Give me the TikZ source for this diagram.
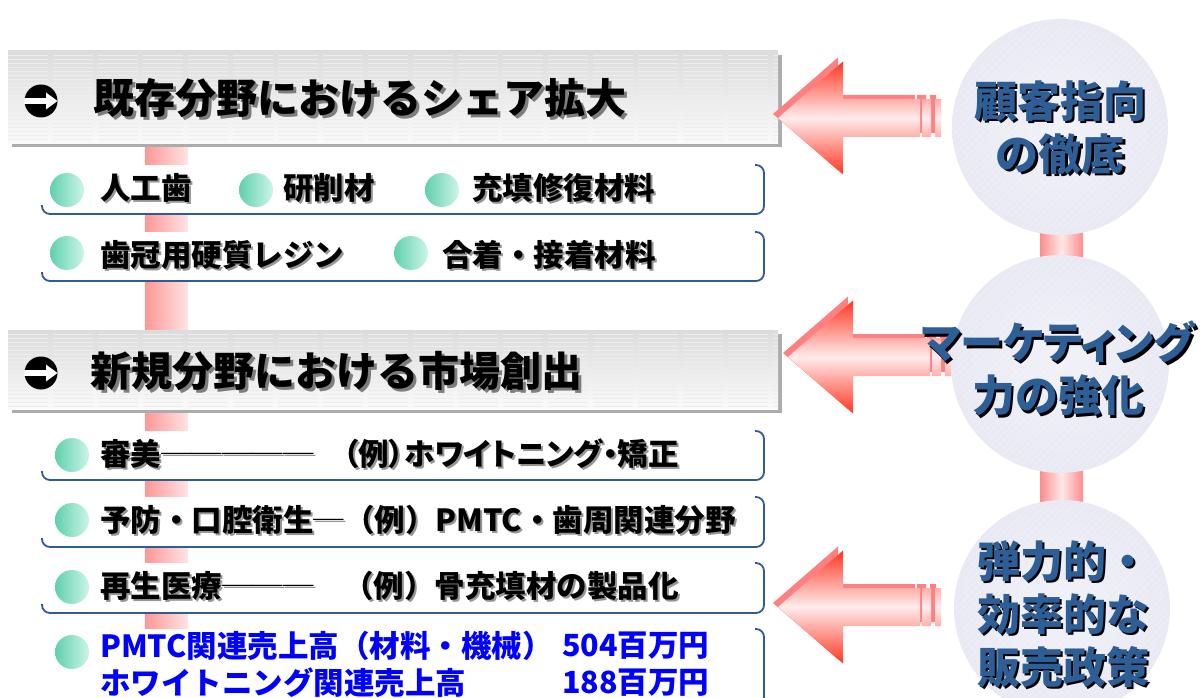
\documentclass[tikz,border=0pt]{standalone}
\usepackage{fontspec}
\setmainfont{Noto Sans CJK JP}
\newfontfamily\jpfont{Noto Sans CJK JP}
\newfontfamily\palfont{Noto Sans CJK JP}[RawFeature=+palt]

\definecolor{shgray}{RGB}{150,150,150}
\definecolor{tshgray}{RGB}{125,125,125}
\definecolor{itemblue}{RGB}{50,90,150}
\definecolor{circtext}{RGB}{46,94,150}
\definecolor{arrpink}{RGB}{255,128,128}
\definecolor{arrred}{RGB}{255,55,35}
\definecolor{arrlight}{RGB}{255,236,236}
\definecolor{bandL}{RGB}{255,150,150}
\definecolor{bandR}{RGB}{255,228,228}
\definecolor{connL}{RGB}{255,140,140}
\definecolor{connM}{RGB}{255,232,232}
\definecolor{circIn}{RGB}{241,241,248}
\definecolor{circMid}{RGB}{232,232,243}
\definecolor{circOut}{RGB}{208,208,228}
\definecolor{bulletD}{RGB}{96,208,172}
\definecolor{bulletL}{RGB}{204,245,234}
\definecolor{titleT}{RGB}{220,220,220}
\definecolor{titleB}{RGB}{250,250,250}
\definecolor{titleSh}{RGB}{172,172,172}
\definecolor{moneyblue}{RGB}{0,0,255}

\pgfdeclareradialshading{ballshade}{\pgfpoint{0bp}{0bp}}{color(0bp)=(circIn); color(28bp)=(circMid); color(50bp)=(circOut)}

\newcommand\shtext[3]{\leavevmode\rlap{\kern#1\raisebox{-#1}{\textcolor{#2}{#3}}}#3}

\newcommand\stripedarrow[2]{%
  \begin{scope}[shift={(#1,#2)}]
   \fill[arrpink] (-5,-4) -- (60,-60.5) -- (60,-23) -- (137,-23) -- (137,15) -- (60,15) -- (60,52.5) -- cycle
      (139,-23) rectangle (148,15) (152,-23) rectangle (158,15);
   \shade[top color=arrred, bottom color=arrred, middle color=arrlight]
      (0,0) -- (65,-56.5) -- (65,-19) -- (142,-19) -- (142,19) -- (65,19) -- (65,56.5) -- cycle
      (144,-19) rectangle (153,19) (157,-19) rectangle (163,19);
  \end{scope}}

\newcommand\circarrow[2]{%
  \begin{scope}[shift={(#1,#2)}]
   \fill[black] (0,0) circle (16.5);
   \fill[white] (-16.8,-2.8) rectangle (7,2.8);
   \fill[white] (5,-8.5) -- (16.5,0) -- (5,8.5) -- cycle;
  \end{scope}}

\newcommand\ballstripes[2]{%
  \begin{scope}
   \clip (#1,#2) circle (108);
   \foreach \k in {-260,-253,...,260}
     \draw[white, opacity=0.3, line width=0.6] (#1+\k-130,#2+130) -- (#1+\k+130,#2-130);
  \end{scope}}

\begin{document}
\begin{tikzpicture}[x=1pt,y=-1pt,
  titletext/.style={anchor=west, inner sep=0pt, font=\jpfont\bfseries\fontsize{41}{41}\selectfont},
  itemtext/.style={anchor=west, inner sep=0pt, font=\jpfont\bfseries\fontsize{30.5}{30.5}\selectfont},
  moneytext/.style={anchor=west, inner sep=0pt, text=moneyblue, font=\jpfont\bfseries\fontsize{30.5}{30.5}\selectfont},
  circtextstyle/.style={align=center, inner sep=0pt, text=circtext, font=\jpfont\bfseries\fontsize{43}{53}\selectfont},
  bullet/.style={left color=bulletD, right color=bulletL},
  itemframe/.style={itemblue, line width=1.8pt, rounded corners=8pt},
]
\useasboundingbox (0,0) rectangle (1204,698);

% ---------- left vertical band ----------
\shade[left color=bandL, right color=bandR] (145,140) rectangle (188,632);

% ---------- right connectors ----------
\shade[left color=connL, right color=connL, middle color=connM] (1040,220) rectangle (1083,510);

% ---------- title boxes ----------
\fill[titleSh] (12,55) rectangle (782,147);
\shade[top color=titleT, bottom color=titleB] (8,51) rectangle (778,143);
\foreach \yy in {55,59,...,141}
  \draw[gray!14, line width=0.5pt, dash pattern=on 40pt off 5pt] (8,\yy) -- (778,\yy);

\fill[titleSh] (12,334) rectangle (782,413);
\shade[top color=titleT, bottom color=titleB] (8,330) rectangle (778,409);
\foreach \yy in {334,338,...,407}
  \draw[gray!14, line width=0.5pt, dash pattern=on 40pt off 5pt] (8,\yy) -- (778,\yy);

% ---------- item boxes ----------
\foreach \ya/\yb in {165/214, 232/281, 431/480, 497/547, 563/613, 629/720}{
  \fill[white, rounded corners=8pt] (42,\ya) rectangle (764,\yb);
  \draw[itemframe] (42,\yb-9) -- (42,\yb) -- (764,\yb) -- (764,\ya) -- (755,\ya);
}

% ---------- arrows ----------
\stripedarrow{778}{118}
\stripedarrow{788}{357}
\stripedarrow{778}{607}

% ---------- circles ----------
\shade[shading=ballshade] (1060,127) circle (108);
\ballstripes{1060}{127}
\shade[shading=ballshade] (1060,364) circle (109);
\ballstripes{1060}{364}
\shade[shading=ballshade] (1062,608) circle (108);
\ballstripes{1062}{608}

% ---------- bullets ----------
\shade[bullet] (67,190) circle (17);
\shade[bullet] (256,190) circle (17);
\shade[bullet] (442,190) circle (17);
\shade[bullet] (67,253) circle (17);
\shade[bullet] (411,253) circle (17);
\shade[bullet] (72,455) circle (17);
\shade[bullet] (72,520) circle (17);
\shade[bullet] (72,587) circle (17);
\shade[bullet] (72,652) circle (17);

% ---------- title texts ----------
\circarrow{41}{101}
\node[titletext] (t1) at (93,100) {\shtext{3pt}{tshgray}{既存分野におけるシェア拡大}};
\circarrow{41}{373}
\node[titletext] (t2) at (90,372) {\shtext{3pt}{tshgray}{新規分野における市場創出}};

% ---------- item texts ----------
\node[itemtext] (i1) at (100,189) {\shtext{2pt}{shgray}{人工歯}};
\node[itemtext] (i2) at (283,189) {\shtext{2pt}{shgray}{研削材}};
\node[itemtext] (i3) at (472,189) {\shtext{2pt}{shgray}{充填修復材料}};
\node[itemtext] (i4) at (100,256) {\shtext{2pt}{shgray}{歯冠用硬質レジン}};
\node[itemtext] (i5) at (442,256) {\shtext{2pt}{shgray}{合着・接着材料}};

\node[itemtext] (n1) at (100,455) {\shtext{2pt}{shgray}{審美─────}};
\node[itemtext, font=\palfont\bfseries\fontsize{30.5}{30.5}\selectfont] (n1b) at (343,455) {\shtext{2pt}{shgray}{（例）ホワイトニング・矯正}};
\node[itemtext] (n2) at (100,521) {\shtext{2pt}{shgray}{予防・口腔衛生─（例）PMTC・歯周関連分野}};
\node[itemtext] (n3) at (100,587) {\shtext{2pt}{shgray}{再生医療───}};
\node[itemtext] (n3b) at (343,587) {\shtext{2pt}{shgray}{（例）骨充填材の製品化}};

\node[moneytext] (m1) at (100,646) {PMTC関連売上高（材料・機械）};
\node[moneytext] (m2) at (562,646) {504百万円};
\node[moneytext] (m3) at (100,683) {ホワイトニング関連売上高};
\node[moneytext] (m4) at (562,683) {188百万円};

% ---------- circle texts ----------
\node[circtextstyle] (c1) at (1060,129) {\shtext{2.5pt}{black}{顧客指向}\\\shtext{2.5pt}{black}{の徹底}};
\node[circtextstyle] (c2) at (1058,370) {{\palfont\shtext{2.5pt}{black}{マーケティング}}\\\shtext{2.5pt}{black}{力の強化}};
\node[circtextstyle] (c3) at (1063,615) {\shtext{2.5pt}{black}{弾力的・}\\\shtext{2.5pt}{black}{効率的な}\\\shtext{2.5pt}{black}{販売政策}};
\end{tikzpicture}
\end{document}
